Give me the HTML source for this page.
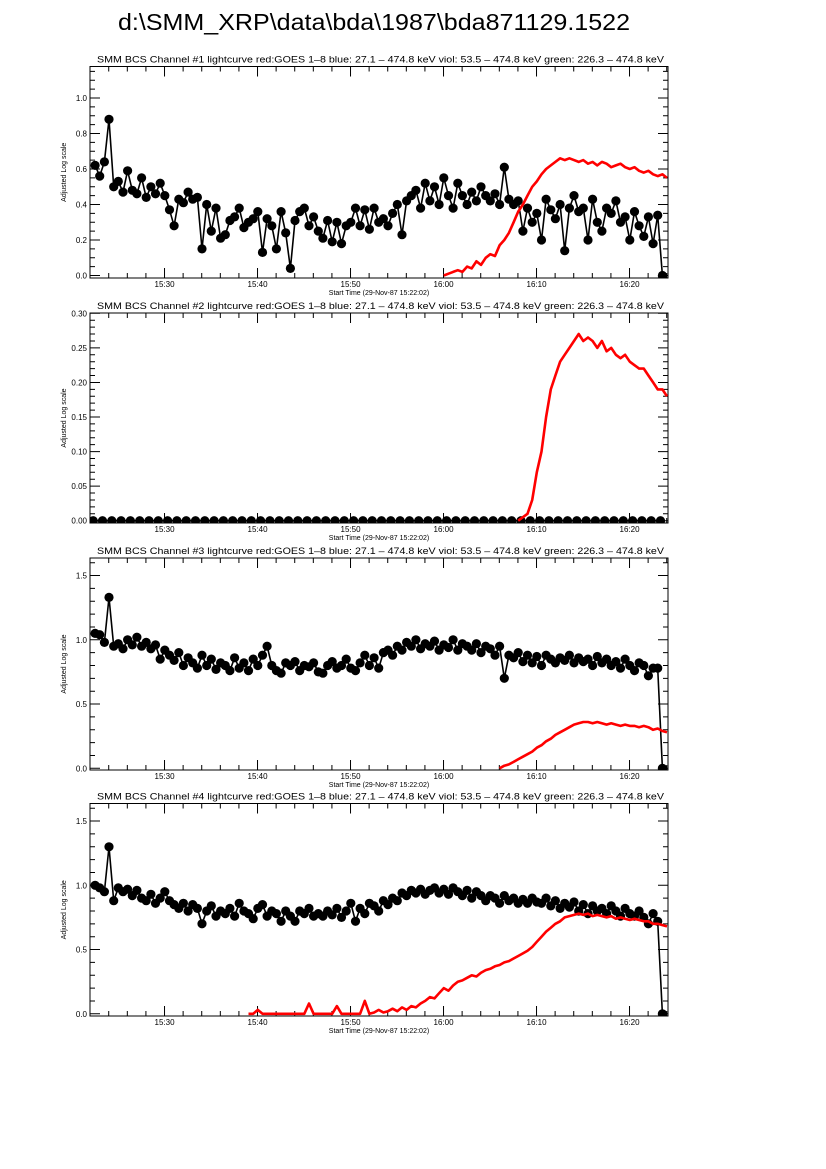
<!DOCTYPE html>
<html><head><meta charset="utf-8"><style>
html,body{margin:0;padding:0;background:#fff;}
svg{display:block;font-family:"Liberation Sans",sans-serif;}
</style></head><body>
<svg id="chart" width="826" height="1169" viewBox="0 0 826 1169">
<text x="118" y="30" font-size="23" textLength="512" lengthAdjust="spacingAndGlyphs">d:\SMM_XRP\data\bda\1987\bda871129.1522</text>
</svg>
<script>
// time in minutes since 15:22:02
const tickLabels = ["15:30","15:40","15:50","16:00","16:10","16:20"];
const tickMinutes = [7.97,17.97,27.97,37.97,47.97,57.97];
const panelTitles = [
 "SMM BCS Channel #1 lightcurve  red:GOES 1\u20138  blue: 27.1 \u2013 474.8 keV  viol: 53.5 \u2013 474.8 keV  green: 226.3 \u2013 474.8 keV",
 "SMM BCS Channel #2 lightcurve  red:GOES 1\u20138  blue: 27.1 \u2013 474.8 keV  viol: 53.5 \u2013 474.8 keV  green: 226.3 \u2013 474.8 keV",
 "SMM BCS Channel #3 lightcurve  red:GOES 1\u20138  blue: 27.1 \u2013 474.8 keV  viol: 53.5 \u2013 474.8 keV  green: 226.3 \u2013 474.8 keV",
 "SMM BCS Channel #4 lightcurve  red:GOES 1\u20138  blue: 27.1 \u2013 474.8 keV  viol: 53.5 \u2013 474.8 keV  green: 226.3 \u2013 474.8 keV"];
const yTicks1 = [0,0.2,0.4,0.6,0.8,1.0];
const yTicks2 = [0,0.05,0.10,0.15,0.20,0.25,0.30];
const yTicks3 = [0,0.5,1.0,1.5];
const yTickLabels1 = ["0.0","0.2","0.4","0.6","0.8","1.0"];
const yTickLabels2 = ["0.00","0.05","0.10","0.15","0.20","0.25","0.30"];
const yTickLabels3 = ["0.0","0.5","1.0","1.5"];

const black1 = [0.62,0.56,0.64,0.88,0.50,0.53,0.47,0.59,0.48,0.46,0.55,0.44,0.50,0.46,0.52,0.45,
0.37,0.28,0.43,0.41,0.47,0.43,0.44,0.15,0.40,0.25,0.38,0.21,0.23,0.31,0.33,0.38,
0.27,0.30,0.32,0.36,0.13,0.32,0.28,0.15,0.36,0.24,0.04,0.31,0.36,0.38,0.28,0.33,
0.25,0.21,0.31,0.19,0.30,0.18,0.28,0.30,0.38,0.28,0.37,0.26,0.38,0.30,0.32,0.28,
0.35,0.40,0.23,0.42,0.45,0.48,0.38,0.52,0.42,0.50,0.40,0.55,0.45,0.38,0.52,0.45,
0.40,0.47,0.42,0.50,0.45,0.42,0.46,0.40,0.61,0.43,0.40,0.42,0.25,0.38,0.30,0.35,
0.20,0.43,0.37,0.32,0.40,0.14,0.38,0.45,0.36,0.38,0.20,0.43,0.30,0.25,0.38,0.35,
0.42,0.30,0.33,0.20,0.36,0.28,0.22,0.33,0.18,0.34,0.00];
const red1 = [0.00,0.01,0.02,0.03,0.02,0.05,0.04,0.08,0.06,0.10,0.12,0.11,0.17,0.20,0.24,0.30,0.36,0.40,0.45,0.50,0.53,0.57,0.60,0.62,0.64,0.66,0.65,0.66,0.65,0.64,0.65,0.63,0.64,0.62,0.64,0.63,0.61,0.62,0.63,0.61,0.60,0.61,0.59,0.58,0.59,0.57,0.56,0.57,0.55];
const black2 = [0,0,0,0,0,0,0,0,0,0,0,0,0,0,0,0,0,0,0,0,0,0,0,0,0,0,0,0,0,0,0,0,0,0,0,0,0,0,0,0,0,0,0,0,0,0,0,0,0,0,0,0,0,0,0,0,0,0,0,0,0,0];
const red2 = [0,0.005,0.01,0.03,0.07,0.10,0.15,0.19,0.21,0.23,0.24,0.25,0.26,0.27,0.26,0.265,0.26,0.25,0.26,0.245,0.25,0.24,0.235,0.24,0.23,0.225,0.22,0.22,0.21,0.20,0.19,0.19,0.18];
const black3 = [1.05,1.04,0.98,1.33,0.95,0.97,0.93,1.00,0.96,1.02,0.95,0.98,0.93,0.96,0.85,0.92,
0.88,0.84,0.90,0.80,0.86,0.82,0.78,0.88,0.80,0.85,0.77,0.82,0.80,0.76,0.86,0.78,
0.82,0.76,0.85,0.80,0.88,0.95,0.80,0.76,0.74,0.82,0.80,0.83,0.76,0.80,0.79,0.82,
0.75,0.74,0.80,0.83,0.78,0.80,0.85,0.78,0.76,0.82,0.88,0.80,0.86,0.78,0.90,0.92,
0.88,0.95,0.92,0.98,0.95,1.00,0.93,0.97,0.95,0.99,0.92,0.96,0.94,1.00,0.92,0.97,
0.95,0.92,0.97,0.90,0.95,0.93,0.88,0.95,0.70,0.88,0.86,0.90,0.83,0.88,0.82,0.87,
0.80,0.88,0.85,0.82,0.86,0.84,0.88,0.82,0.86,0.83,0.85,0.80,0.87,0.82,0.85,0.80,
0.83,0.78,0.85,0.80,0.76,0.82,0.80,0.72,0.78,0.78,0.00];
const red3 = [0,0.02,0.03,0.05,0.07,0.09,0.11,0.13,0.16,0.18,0.21,0.23,0.26,0.28,0.30,0.32,0.34,0.35,0.36,0.36,0.35,0.36,0.35,0.34,0.35,0.34,0.33,0.34,0.33,0.33,0.32,0.33,0.32,0.30,0.31,0.29,0.28];
const black4 = [1.00,0.98,0.95,1.30,0.88,0.98,0.95,0.97,0.92,0.96,0.90,0.88,0.93,0.86,0.90,0.95,
0.88,0.85,0.82,0.86,0.80,0.85,0.82,0.70,0.80,0.84,0.76,0.80,0.78,0.82,0.76,0.86,
0.80,0.78,0.74,0.82,0.85,0.76,0.80,0.78,0.72,0.80,0.76,0.72,0.80,0.78,0.82,0.76,
0.78,0.76,0.80,0.77,0.82,0.75,0.80,0.86,0.72,0.82,0.78,0.86,0.84,0.80,0.88,0.85,
0.90,0.88,0.94,0.92,0.96,0.94,0.97,0.93,0.96,0.98,0.94,0.97,0.93,0.98,0.95,0.92,
0.96,0.90,0.95,0.92,0.88,0.92,0.90,0.86,0.92,0.88,0.90,0.86,0.89,0.86,0.90,0.87,
0.86,0.90,0.84,0.88,0.82,0.86,0.83,0.87,0.80,0.85,0.78,0.84,0.80,0.82,0.78,0.84,
0.80,0.76,0.82,0.78,0.76,0.80,0.75,0.70,0.78,0.72,0.00];
const red4 = [0,0,0.03,0,0,0,0,0,0,0,0,0,
0,0.08,0,0,0,0,0,0.06,0,0,0,0,
0,0.10,0,0.01,0.03,0.01,0.02,0.04,0.02,0.05,0.03,0.06,
0.05,0.08,0.10,0.13,0.12,0.16,0.20,0.18,0.22,0.25,0.26,0.28,
0.30,0.29,0.32,0.34,0.35,0.37,0.38,0.40,0.41,0.43,0.45,0.47,
0.49,0.52,0.56,0.60,0.64,0.67,0.70,0.72,0.75,0.76,0.77,0.78,
0.77,0.78,0.76,0.77,0.76,0.75,0.76,0.74,0.75,0.74,0.73,0.74,
0.73,0.72,0.72,0.70,0.70,0.69,0.68];

const NS='http://www.w3.org/2000/svg';
const svg=document.getElementById('chart');
const X0=90, X1=668, PXMIN=9.3;
function xs(t){return X0+0.4+t*PXMIN;}
function mk(tag,attrs,parent){const e=document.createElementNS(NS,tag);for(const k in attrs)e.setAttribute(k,attrs[k]);(parent||svg).appendChild(e);return e;}

const panels=[
 {top:66.5,bot:278,y0:275.5,scale:177.5,ticks:yTicks1,labels:yTickLabels1,minor:0.05,vmax:1.2,
  black:black1,bStart:0.5,bStep:0.5,red:red1,rStart:38,rStep:0.5,dots:true},
 {top:313,bot:523,y0:520.7,scale:691.3,ticks:yTicks2,labels:yTickLabels2,minor:0.01,vmax:0.3,
  black:black2,bStart:0.3,bStep:1,red:red2,rStart:46,rStep:0.5,dots:true},
 {top:558,bot:770,y0:768.3,scale:128.5,ticks:yTicks3,labels:yTickLabels3,minor:0.1,vmax:1.6,
  black:black3,bStart:0.5,bStep:0.5,red:red3,rStart:44,rStep:0.5,dots:true},
 {top:803.5,bot:1016,y0:1013.8,scale:128.5,ticks:yTicks3,labels:yTickLabels3,minor:0.1,vmax:1.6,
  black:black4,bStart:0.5,bStep:0.5,red:red4,rStart:17,rStep:0.5,dots:true}
];

panels.forEach((p,i)=>{
  const g=mk('g',{});
  
  
  const cid='clip'+i;
  const cp=mk('clipPath',{id:cid},g);
  mk('rect',{x:X0,y:p.top,width:X1-X0,height:p.bot-p.top},cp);
  const ys=v=>p.y0-v*p.scale;
  // title
  const tt=mk('text',{x:97,y:p.top-4,'font-size':9,textLength:567,lengthAdjust:'spacingAndGlyphs'},g);
  tt.textContent=panelTitles[i];
  
  
  // axis box
  const box=mk('rect',{x:X0,y:p.top,width:X1-X0,height:p.bot-p.top,fill:'none',stroke:'#000','stroke-width':1},g);
  
  
  // x ticks
  let tp='';
  for(let m=-0.03;xs(m)<X1;m+=2){
    const x=xs(m); if(x<X0+1)continue;
    const major=Math.abs(((m-7.97)%10+10)%10)<0.1;
    const L=major?10:5;
    tp+=`M${x},${p.bot}v${-L}M${x},${p.top}v${L}`;
  }
  // y ticks
  for(let v=0;v<=p.vmax+1e-9;v+=p.minor){
    const y=ys(v); if(y<p.top)continue;
    const major=p.ticks.some(t=>Math.abs(t-v)<1e-6);
    const L=major?10:5;
    tp+=`M${X0},${y}h${L}M${X1},${y}h${-L}`;
  }
  const tk=mk('path',{d:tp,stroke:'#000','stroke-width':1,fill:'none'},g);
  
  
  tickLabels.forEach((lb,j)=>{
    const t=mk('text',{x:xs(tickMinutes[j]),y:p.bot+9,'font-size':8,'text-anchor':'middle'},g);
    t.textContent=lb;
    
    
  });
  p.ticks.forEach((v,j)=>{
    const t=mk('text',{x:X0-3,y:ys(v)+3,'font-size':8,'text-anchor':'end'},g);
    t.textContent=p.labels[j];
    
    
  });
  const yl=mk('text',{x:0,y:0,'font-size':7,'text-anchor':'middle',transform:`translate(66,${(p.top+p.bot)/2}) rotate(-90)`},g);
  yl.textContent='Adjusted Log scale';
  
  
  const xl=mk('text',{x:379,y:p.bot+17,'font-size':7,'text-anchor':'middle'},g);
  xl.textContent='Start Time (29-Nov-87 15:22:02)';
  
  
  // data
  const dg=mk('g',{'clip-path':`url(#${cid})`},g);
  let d='';
  p.black.forEach((v,k)=>{d+=(k?'L':'M')+xs(p.bStart+k*p.bStep).toFixed(1)+','+ys(v).toFixed(1);});
  const bl=mk('path',{d:d,stroke:'#000','stroke-width':1.6,fill:'none','stroke-linejoin':'round'},dg);
  
  
  p.black.forEach((v,k)=>{
    const c=mk('circle',{cx:xs(p.bStart+k*p.bStep).toFixed(1),cy:ys(v).toFixed(1),r:4.6,fill:'#000'},dg);
    
    
  });
  let rd='';
  p.red.forEach((v,k)=>{rd+=(k?'L':'M')+xs(p.rStart+k*p.rStep).toFixed(1)+','+ys(v).toFixed(1);});
  const rl=mk('path',{d:rd,stroke:'#ff0000','stroke-width':2.6,fill:'none','stroke-linejoin':'round'},dg);
  
  
});
</script>
</body></html>
